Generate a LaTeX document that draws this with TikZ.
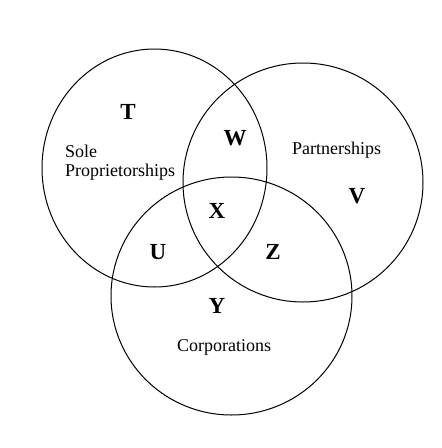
\documentclass[tikz,border=0pt]{standalone}
\usepackage{fontspec}
\setmainfont{Liberation Serif}
\begin{document}
\begin{tikzpicture}[x=1pt,y=-1pt,
  ring/.style={draw=black,line width=1pt},
  region/.style={font=\fontsize{23}{24}\selectfont\bfseries,inner sep=0pt},
  setname/.style={font=\fontsize{18}{19}\selectfont,inner sep=0pt,anchor=west,align=left}]
\useasboundingbox[fill=white] (0,0) rectangle (442,448);
\draw[ring] (154.5,168) ellipse [x radius=112.5, y radius=119];
\draw[ring] (303,182.5) ellipse [x radius=120, y radius=119.5];
\draw[ring] (231.5,296) ellipse [x radius=120.5, y radius=119];
\node[region] (T) at (128,112) {T};
\node[region] (W) at (235,138) {W};
\node[region] (X) at (217,211) {X};
\node[region] (U) at (158,252) {U};
\node[region] (Z) at (273,252) {Z};
\node[region] (Y) at (217,306) {Y};
\node[region] (V) at (357,196) {V};
\node[setname] (sole) at (65,151) {Sole};
\node[setname] (prop) at (65,172) {Proprietorships};
\node[setname] (part) at (292,150) {Partnerships};
\node[setname] (corp) at (177,347) {Corporations};
\end{tikzpicture}
\end{document}
